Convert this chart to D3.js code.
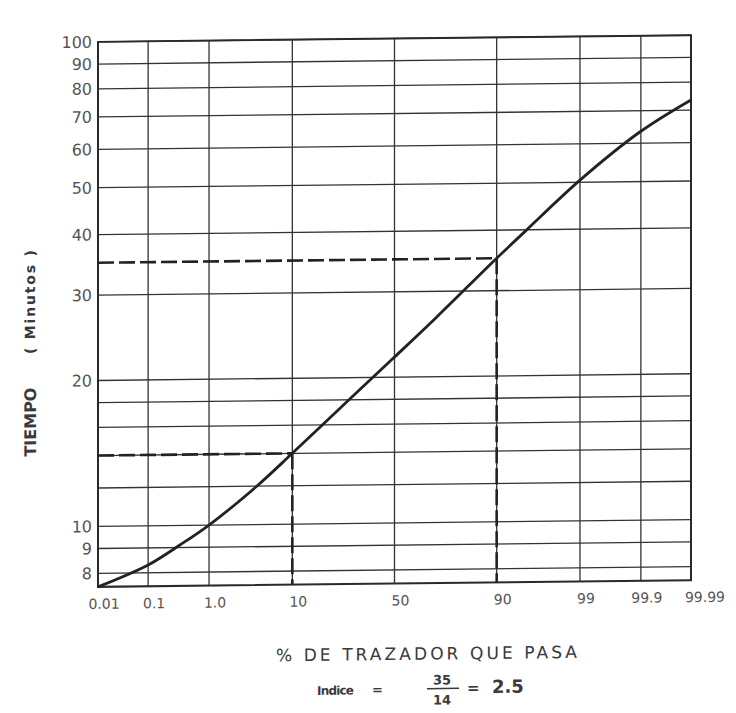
<!DOCTYPE html>
<html>
<head>
<meta charset="utf-8">
<script src="https://cdn.jsdelivr.net/npm/d3@7"></script>
<style>
  body { margin: 0; background: #fff; }
  svg text { font-family: "DejaVu Sans", sans-serif; }
</style>
</head>
<body>
<svg id="chart" width="736" height="713"></svg>
<script>
// % de trazador que pasa (escala de probabilidad) vs tiempo (escala log)
var pctTicks = [0.01, 0.1, 1.0, 10, 50, 90, 99, 99.9, 99.99];
var pctLabels = ["0.01", "0.1", "1.0", "10", "50", "90", "99", "99.9", "99.99"];
var minGrid = [8, 9, 10, 12, 14, 16, 18, 20, 30, 40, 50, 60, 70, 80, 90, 100];
var minLabels = [8, 9, 10, 20, 30, 40, 50, 60, 70, 80, 90, 100];

// curve
var curvePct = [0.01, 0.1, 0.35, 1.0, 4.2, 10, 30, 50, 70, 90, 95, 99, 99.9, 99.99];
var curveMin = [7.5, 8.3, 9.1, 10, 12, 14, 18.3, 22, 26.5, 35, 39.8, 50.5, 63.5, 73.5];

// dashed guides (10% -> 14 min, 90% -> 35 min)
var guidePct = [10, 90];
var guideMin = [14, 35];

// inverse normal cdf (Acklam) for the probability axis
function probit(p) {
  var a = [-3.969683028665376e+01, 2.209460984245205e+02, -2.759285104469687e+02, 1.383577518672690e+02, -3.066479806614716e+01, 2.506628277459239e+00];
  var b = [-5.447609879822406e+01, 1.615858368580409e+02, -1.556989798598866e+02, 6.680131188771972e+01, -1.328068155288572e+01];
  var c = [-7.784894002430293e-03, -3.223964580411365e-01, -2.400758277161838e+00, -2.549732539343734e+00, 4.374664141464968e+00, 2.938163982698783e+00];
  var d = [7.784695709041462e-03, 3.224671290700398e-01, 2.445134137142996e+00, 3.754408661907416e+00];
  var pl = 0.02425, q, r;
  if (p < pl) {
    q = Math.sqrt(-2 * Math.log(p));
    return (((((c[0]*q+c[1])*q+c[2])*q+c[3])*q+c[4])*q+c[5]) / ((((d[0]*q+d[1])*q+d[2])*q+d[3])*q+1);
  } else if (p <= 1 - pl) {
    q = p - 0.5; r = q * q;
    return (((((a[0]*r+a[1])*r+a[2])*r+a[3])*r+a[4])*r+a[5])*q / (((((b[0]*r+b[1])*r+b[2])*r+b[3])*r+b[4])*r+1);
  } else {
    q = Math.sqrt(-2 * Math.log(1 - p));
    return -(((((c[0]*q+c[1])*q+c[2])*q+c[3])*q+c[4])*q+c[5]) / ((((d[0]*q+d[1])*q+d[2])*q+d[3])*q+1);
  }
}

var plotL = 98, plotR = 691, plotT = 38.5, plotB = 583.5;

var zScale = d3.scaleLinear()
  .domain([probit(0.0001), probit(0.9999)])
  .range([plotL, plotR]);
var x = function(pct) { return zScale(probit(pct / 100)); };

var y = d3.scaleLog()
  .domain([7.5, 100])
  .range([plotB, plotT]);

var svg = d3.select("#chart");
// scanned page is slightly tilted
var g = svg.append("g")
  .attr("transform", "translate(395,311) skewY(-0.65) translate(-395,-311)");

// grid
g.append("g").selectAll("line")
  .data(minGrid)
  .enter().append("line")
    .attr("x1", plotL).attr("x2", plotR)
    .attr("y1", d => y(d)).attr("y2", d => y(d))
    .attr("stroke", "#333").attr("stroke-width", 1.3);

g.append("g").selectAll("line")
  .data(pctTicks)
  .enter().append("line")
    .attr("x1", d => x(d)).attr("x2", d => x(d))
    .attr("y1", plotT).attr("y2", plotB)
    .attr("stroke", "#333").attr("stroke-width", 1.3);

// frame
g.append("rect")
  .attr("x", plotL).attr("y", plotT)
  .attr("width", plotR - plotL).attr("height", plotB - plotT)
  .attr("fill", "none").attr("stroke", "#2a2a2a").attr("stroke-width", 2);

// y tick labels
g.append("g").selectAll("text")
  .data(minLabels)
  .enter().append("text")
    .attr("x", plotL - 6)
    .attr("y", d => y(d))
    .attr("dy", "0.36em")
    .attr("text-anchor", "end")
    .attr("font-size", 16)
    .attr("fill", "#555")
    .text(d => d);

// x tick labels
g.append("g").selectAll("text")
  .data(pctTicks)
  .enter().append("text")
    .attr("x", (d, i) => x(d) + (i === pctTicks.length - 1 ? 14 : 6))
    .attr("y", plotB + 22)
    .attr("text-anchor", "middle")
    .attr("font-size", 14)
    .attr("fill", "#555")
    .text((d, i) => pctLabels[i]);

// dashed guides
var guides = guidePct.map((p, i) => ({pct: p, min: guideMin[i]}));
var dash = g.append("g")
  .attr("stroke", "#222").attr("stroke-width", 2.6)
  .attr("stroke-dasharray", "16,5").attr("fill", "none");
dash.selectAll("line.gh")
  .data(guides)
  .enter().append("line").attr("class", "gh")
    .attr("x1", plotL).attr("x2", d => x(d.pct))
    .attr("y1", d => y(d.min)).attr("y2", d => y(d.min));
dash.selectAll("line.gv")
  .data(guides)
  .enter().append("line").attr("class", "gv")
    .attr("x1", d => x(d.pct)).attr("x2", d => x(d.pct))
    .attr("y1", d => y(d.min)).attr("y2", plotB);

// curve
var pts = curvePct.map((p, i) => [p, curveMin[i]]);
var line = d3.line()
  .x(d => x(d[0]))
  .y(d => y(d[1]))
  .curve(d3.curveCatmullRom.alpha(0.5));
g.append("path")
  .datum(pts)
  .attr("d", line)
  .attr("fill", "none")
  .attr("stroke", "#222")
  .attr("stroke-width", 2.8);

// axis titles
g.append("text")
  .attr("transform", "translate(36,418) rotate(-90)")
  .attr("text-anchor", "middle")
  .attr("font-size", 16).attr("font-weight", "bold")
  .attr("fill", "#3a3a3a")
  .text("TIEMPO");
g.append("text")
  .attr("transform", "translate(35,298) rotate(-90)")
  .attr("text-anchor", "middle")
  .attr("font-size", 14).attr("font-weight", "bold")
  .attr("fill", "#3a3a3a")
  .attr("textLength", 104).attr("lengthAdjust", "spacing")
  .text("( Minutos )");

g.append("text")
  .attr("x", 276).attr("y", 660)
  .attr("font-size", 17)
  .attr("fill", "#3a3a3a")
  .attr("textLength", 301).attr("lengthAdjust", "spacing")
  .text("% DE TRAZADOR  QUE  PASA");

// indice
var idx = g.append("g").attr("fill", "#3a3a3a");
idx.append("text").attr("x", 317).attr("y", 694)
  .attr("font-size", 12).attr("font-weight", "bold")
  .attr("textLength", 37).attr("lengthAdjust", "spacing").text("Indice");
idx.append("text").attr("x", 372).attr("y", 694)
  .attr("font-size", 13).attr("font-weight", "bold").text("=");
idx.append("text").attr("x", 442).attr("y", 685).attr("text-anchor", "middle")
  .attr("font-size", 13).attr("font-weight", "bold").text("35");
idx.append("line").attr("x1", 427).attr("x2", 459).attr("y1", 689).attr("y2", 689)
  .attr("stroke", "#3a3a3a").attr("stroke-width", 1.5);
idx.append("text").attr("x", 442).attr("y", 705).attr("text-anchor", "middle")
  .attr("font-size", 13).attr("font-weight", "bold").text("14");
idx.append("text").attr("x", 467).attr("y", 694)
  .attr("font-size", 15).attr("font-weight", "bold").text("=");
idx.append("text").attr("x", 492).attr("y", 694)
  .attr("font-size", 18).attr("font-weight", "bold").text("2.5");
</script>
</body>
</html>
